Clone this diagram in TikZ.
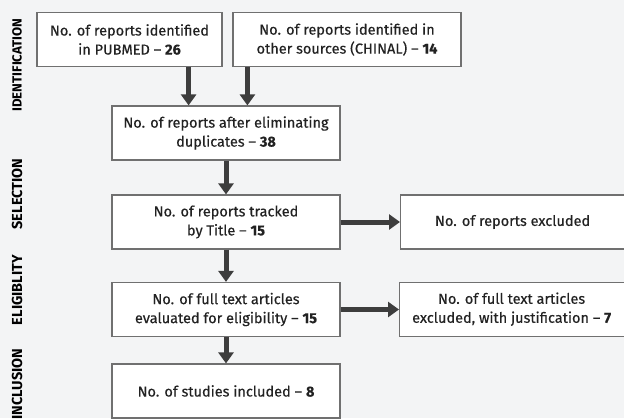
\documentclass[tikz,border=0pt]{standalone}
\usepackage{fontspec}
\setmainfont{Fira Sans}
\newfontfamily\boxfont{Fira Sans}[Ligatures=TeX, FakeBold=0.35]
\usetikzlibrary{arrows.meta}
\definecolor{bgcol}{HTML}{F3F4F5}
\definecolor{boxline}{HTML}{707070}
\definecolor{arrcol}{HTML}{3D3D3D}
\definecolor{txtcol}{HTML}{222222}
\tikzset{
	rbox/.style={draw=boxline, line width=1.2pt, fill=white, text=txtcol, align=center, minimum height=54pt, inner sep=0pt, font=\boxfont\fontsize{14.5}{19}\selectfont},
	arr/.style={draw=arrcol, line width=5pt, -{Triangle[width=15pt,length=11pt]}},
	phase/.style={rotate=90, font=\bfseries\fontsize{14.5}{16}\selectfont, text=black}
}
\begin{document}
\begin{tikzpicture}[x=1pt,y=-1pt]
	\useasboundingbox[fill=bgcol] (0,0) rectangle (624,418);
	
	\node[phase, font=\bfseries\fontsize{13.2}{16}\selectfont] at (17,65) (idf) {IDENTIFICATION};
	\node[phase] at (17,194) (sel) {SELECTION};
	\node[phase] at (17,290) (eli) {ELIGIBLITY};
	\node[phase, anchor=east] at (17,345) (inc) {INCLUSION};
	
	\node[rbox, minimum width=185pt] at (129.5,39.5) (pub) {No. of reports identified\\in PUBMED -- \textbf{26}};
	\node[rbox, minimum width=228pt] at (347,39.5) (chn) {No. of reports identified in\\other sources (CHINAL) -- \textbf{14}};
	\node[rbox, minimum width=228pt] at (226,133) (dup) {No. of reports after eliminating\\duplicates -- \textbf{38}};
	\node[rbox, minimum width=228pt] at (226,222) (ttl) {No. of reports tracked\\by Title -- \textbf{15}};
	\node[rbox, minimum width=232pt, anchor=west] at (400,222) (exc) {\hspace*{-8pt}No. of reports excluded};
	\node[rbox, minimum width=232pt, anchor=west] at (399,309.5) (jus) {\hspace*{-8pt}\begin{tabular}{@{}c@{}}No. of full text articles\\excluded, with justification -- \textbf{7}\end{tabular}};
	\node[rbox, minimum width=228pt] at (226,309.5) (ful) {No. of full text articles\\evaluated for eligibility -- \textbf{15}};
	\node[rbox, minimum width=228pt] at (226,391) (stu) {No. of studies included -- \textbf{8}};
	
	\draw[arr] ([xshift=-34pt]pub.south east) -- ([xshift=-34pt]pub.south east |- dup.north);
	\draw[arr] ([xshift=15pt]chn.south west) -- ([xshift=15pt]chn.south west |- dup.north);
	\draw[arr] (dup) -- (ttl);
	\draw[arr] (ttl) -- (exc);
	\draw[arr] (ttl) -- (ful);
	\draw[arr] (ful) -- (jus);
	\draw[arr] (ful) -- (stu);
\end{tikzpicture}
\end{document}
